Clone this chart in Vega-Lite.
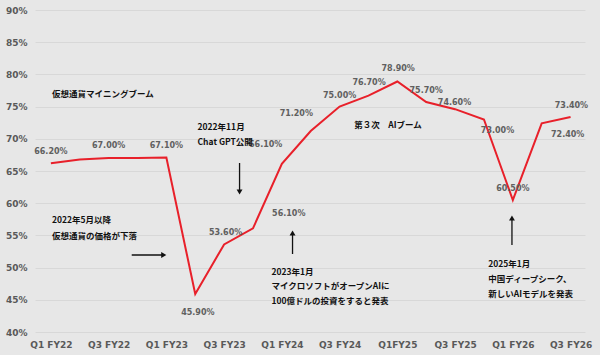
{
  "$schema": "https://vega.github.io/schema/vega-lite/v6.json",
  "width": 550,
  "height": 322,
  "autosize": {"type": "none"},
  "padding": {"left": 35, "top": 10, "right": 15, "bottom": 23},
  "background": "#e7e7e7",
  "config": {
    "view": {"stroke": null},
    "font": "DejaVu Sans"
  },
  "datasets": {
    "series": [
      {"q": "Q1 FY22", "x": 0, "y": 66.2},
      {"q": "Q2 FY22", "x": 1, "y": 66.8},
      {"q": "Q3 FY22", "x": 2, "y": 67.0},
      {"q": "Q4 FY22", "x": 3, "y": 67.0},
      {"q": "Q1 FY23", "x": 4, "y": 67.1},
      {"q": "Q2 FY23", "x": 5, "y": 45.9},
      {"q": "Q3 FY23", "x": 6, "y": 53.6},
      {"q": "Q4 FY23", "x": 7, "y": 56.1},
      {"q": "Q1 FY24", "x": 8, "y": 66.1},
      {"q": "Q2 FY24", "x": 9, "y": 71.2},
      {"q": "Q3 FY24", "x": 10, "y": 75.0},
      {"q": "Q4 FY24", "x": 11, "y": 76.7},
      {"q": "Q1 FY25", "x": 12, "y": 78.9},
      {"q": "Q2 FY25", "x": 13, "y": 75.7},
      {"q": "Q3 FY25", "x": 14, "y": 74.6},
      {"q": "Q4 FY25", "x": 15, "y": 73.0},
      {"q": "Q1 FY26", "x": 16, "y": 60.5},
      {"q": "Q2 FY26", "x": 17, "y": 72.4},
      {"q": "Q3 FY26", "x": 18, "y": 73.4}
    ],
    "labels": [
      {"t": "66.20%", "x": 0.0, "y": 67.97},
      {"t": "67.00%", "x": 2.0, "y": 68.9},
      {"t": "67.10%", "x": 4.0, "y": 68.9},
      {"t": "45.90%", "x": 5.09, "y": 42.97},
      {"t": "53.60%", "x": 6.05, "y": 55.3},
      {"t": "56.10%", "x": 8.24, "y": 58.4},
      {"t": "66.10%", "x": 7.44, "y": 69.06},
      {"t": "71.20%", "x": 8.5, "y": 73.9},
      {"t": "75.00%", "x": 10.0, "y": 76.7},
      {"t": "76.70%", "x": 11.02, "y": 78.6},
      {"t": "78.90%", "x": 12.03, "y": 80.8},
      {"t": "75.70%", "x": 13.0, "y": 77.5},
      {"t": "74.60%", "x": 13.98, "y": 75.6},
      {"t": "73.00%", "x": 15.47, "y": 71.25},
      {"t": "60.50%", "x": 16.0, "y": 62.2},
      {"t": "72.40%", "x": 17.9, "y": 70.6},
      {"t": "73.40%", "x": 18.03, "y": 75.16}
    ],
    "notes": [
      {"t": "仮想通貨マイニングブーム", "x": 0.035, "y": 76.96},
      {"t": "2022年11月", "x": 5.08, "y": 71.83},
      {"t": "Chat GPT公開", "x": 5.08, "y": 69.5},
      {"t": "2022年5月以降", "x": 0.035, "y": 57.39},
      {"t": "仮想通貨の価格が下落", "x": 0.035, "y": 54.91},
      {"t": "2023年1月", "x": 7.64, "y": 49.32},
      {"t": "マイクロソフトがオープンAIに", "x": 7.64, "y": 47.14},
      {"t": "100億ドルの投資をすると発表", "x": 7.64, "y": 44.81},
      {"t": "第３次　AIブーム", "x": 10.51, "y": 72.14},
      {"t": "2025年1月", "x": 15.15, "y": 50.56},
      {"t": "中国ディープシーク、", "x": 15.15, "y": 48.23},
      {"t": "新しいAIモデルを発表", "x": 15.15, "y": 45.9}
    ],
    "arrows": [
      {"dir": "right", "x": 2.8, "y": 51.96, "x2": 3.91, "y2": 51.96},
      {"dir": "down", "x": 6.535, "y": 66.24, "x2": 6.535, "y2": 61.74},
      {"dir": "up", "x": 8.37, "y": 52.11, "x2": 8.37, "y2": 55.37},
      {"dir": "up", "x": 15.97, "y": 53.51, "x2": 15.97, "y2": 57.7}
    ],
    "heads": [
      {"dir": "right", "x": 3.91, "y": 51.96},
      {"dir": "down", "x": 6.535, "y": 61.74},
      {"dir": "up", "x": 8.37, "y": 55.37},
      {"dir": "up", "x": 15.97, "y": 57.7}
    ]
  },
  "encoding": {
    "x": {
      "field": "x", "type": "quantitative",
      "scale": {"domain": [-0.55, 18.5], "nice": false, "zero": false},
      "axis": {
        "values": [0, 2, 4, 6, 8, 10, 12, 14, 16, 18],
        "labelExpr": "['Q1 FY22','Q3 FY22','Q1 FY23','Q3 FY23','Q1 FY24','Q3 FY24','Q1FY25','Q3 FY25','Q1 FY26','Q3 FY26'][round(datum.value/2)]",
        "title": null, "grid": false, "domain": false, "ticks": false,
        "labelFont": "DejaVu Sans", "labelFontWeight": "bold", "labelFontSize": 9,
        "labelColor": "#595959", "labelPadding": 8, "labelFlush": false, "labelOverlap": false
      }
    },
    "y": {
      "field": "y", "type": "quantitative",
      "scale": {"domain": [40, 90], "nice": false, "zero": false},
      "axis": {
        "values": [40, 45, 50, 55, 60, 65, 70, 75, 80, 85, 90],
        "labelExpr": "datum.value + '%'",
        "title": null, "grid": true, "gridColor": "#d8d8d8", "gridWidth": 1,
        "domain": false, "ticks": false,
        "labelFont": "DejaVu Sans", "labelFontWeight": "bold", "labelFontSize": 9,
        "labelColor": "#595959", "labelPadding": 8, "labelOverlap": false, "labelFlush": false
      }
    }
  },
  "layer": [
    {
      "data": {"name": "series"},
      "mark": {"type": "line", "color": "#e8202a", "strokeWidth": 2}
    },
    {
      "data": {"name": "labels"},
      "mark": {"type": "text", "font": "DejaVu Sans", "fontWeight": "bold", "fontSize": 8, "color": "#606060", "align": "center", "baseline": "middle"},
      "encoding": {"text": {"field": "t"}}
    },
    {
      "data": {"name": "notes"},
      "mark": {"type": "text", "font": "Noto Sans CJK JP", "fontWeight": "bold", "fontSize": 8.5, "color": "#111111", "align": "left", "baseline": "middle"},
      "encoding": {"text": {"field": "t"}}
    },
    {
      "data": {"name": "arrows"},
      "mark": {"type": "rule", "color": "#111111", "strokeWidth": 1.3},
      "encoding": {
        "x2": {"field": "x2"},
        "y2": {"field": "y2"}
      }
    },
    {
      "data": {"name": "heads"},
      "mark": {"type": "point", "filled": true, "color": "#111111", "size": 35, "opacity": 1},
      "encoding": {
        "shape": {
          "field": "dir", "type": "nominal",
          "scale": {"domain": ["right", "down", "up"], "range": ["triangle-right", "triangle-down", "triangle-up"]},
          "legend": null
        }
      }
    }
  ]
}
